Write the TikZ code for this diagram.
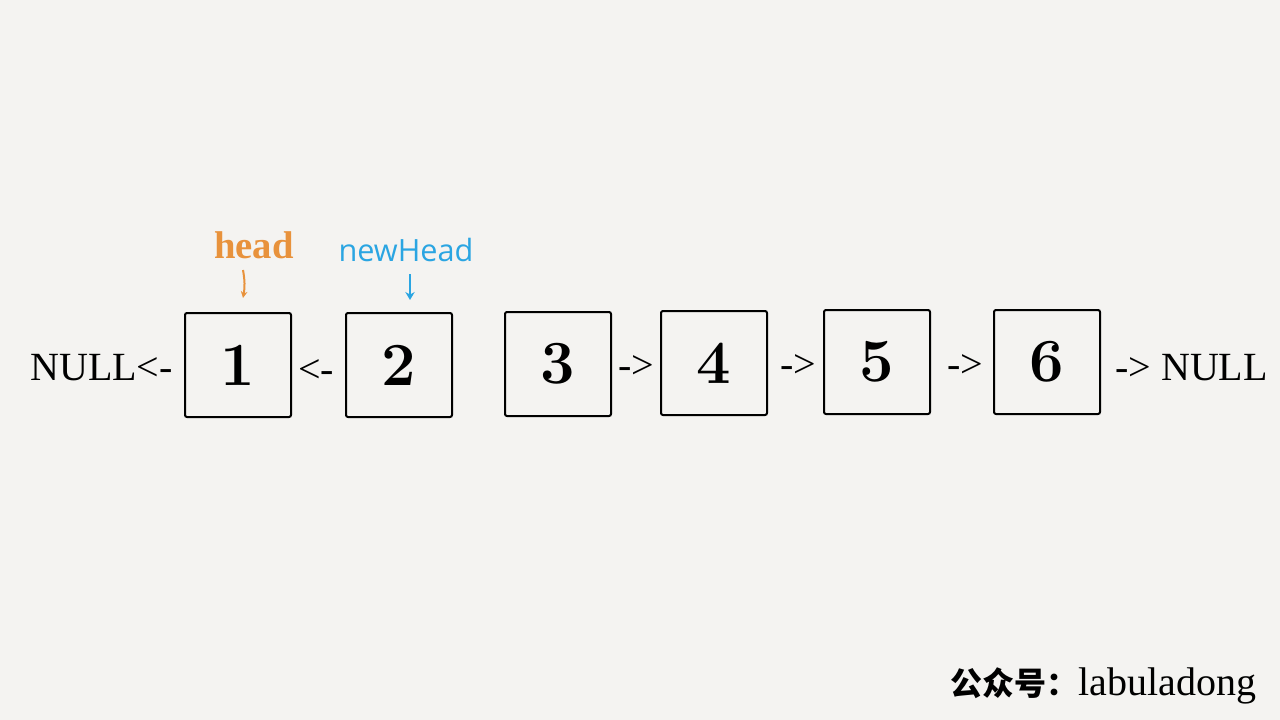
\documentclass[tikz,border=0pt]{standalone}
\usepackage{fontspec}
\usepackage{tikz}
\usetikzlibrary{arrows.meta}
\usepackage{xcolor}

\newfontfamily\listfont{Liberation Serif}
\newfontfamily\openfont{Open Sans}
\newfontfamily\cjk{Noto Sans CJK SC}

\definecolor{paper}{HTML}{F4F3F1}
\definecolor{headorange}{HTML}{E8923C}
\definecolor{newblue}{HTML}{2AA5E2}

\tikzset{
  listnode/.style={draw, line width=1.5pt, rounded corners=1.5pt, minimum width=79.5pt, minimum height=78pt, inner sep=0pt, font=\bfseries\fontsize{46}{46}\selectfont},
  linktext/.style={inner sep=0pt, font=\listfont\fontsize{30}{30}\selectfont}
}

\begin{document}
\begin{tikzpicture}[x=0.75pt,y=0.75pt,yscale=-1,xscale=1]
    %set diagram: 1280 wide, 720 high
    \path[fill=paper] (0,0) rectangle (1280,720);

    %Shape: Boxes
    \node[listnode] (n1) at (238,365) {1};
    \node[listnode] (n2) at (399,365) {2};
    \node[listnode] (n3) at (558,364) {3};
    \node[listnode] (n4) at (714,363) {4};
    \node[listnode] (n5) at (877,362) {5};
    \node[listnode] (n6) at (1047,362) {6};

    % Text Node
    \node[linktext, anchor=base west] (nullL) at (30,380) {NULL<-};
    % Text Node
    \node[linktext, anchor=base west] (l12) at (298,382) {<-};
    % Text Node
    \node[linktext, anchor=base west] (l34) at (618,378) {->};
    % Text Node
    \node[linktext, anchor=base west] (l45) at (780,377) {->};
    % Text Node
    \node[linktext, anchor=base west] (l56) at (947,377) {->};
    % Text Node
    \node[linktext, anchor=base west] (nullR) at (1115,380) {-> NULL};

    % Text Node
    \node[inner sep=0pt, anchor=base, text=headorange, font=\listfont\bfseries\fontsize{29}{29}\selectfont] (head) at (254,258) {head};
    % Text Node
    \node[inner sep=0pt, anchor=base, text=newblue, font=\openfont\fontsize{23}{23}\selectfont] (newhead) at (406,261) {newHead};

    %Straight Lines
    \coordinate (headtip) at (243,298);
    \coordinate (newtip) at (410,300);
    \draw[headorange, line width=1.5pt, -{Stealth[length=5pt,width=5pt]}] (headtip |- 0,270) to[bend right=10] (headtip);
    \draw[newblue, line width=1.5pt, -{Stealth[length=6pt,width=7pt]}] (newtip |- 0,274) -- (newtip);

    % Text Node
    \node[inner sep=0pt, anchor=base west] (sign) at (950,695) {{\cjk\bfseries\fontsize{24}{24}\selectfont 公众号：}{\listfont\fontsize{30}{30}\selectfont labuladong}};

\end{tikzpicture}
\end{document}
